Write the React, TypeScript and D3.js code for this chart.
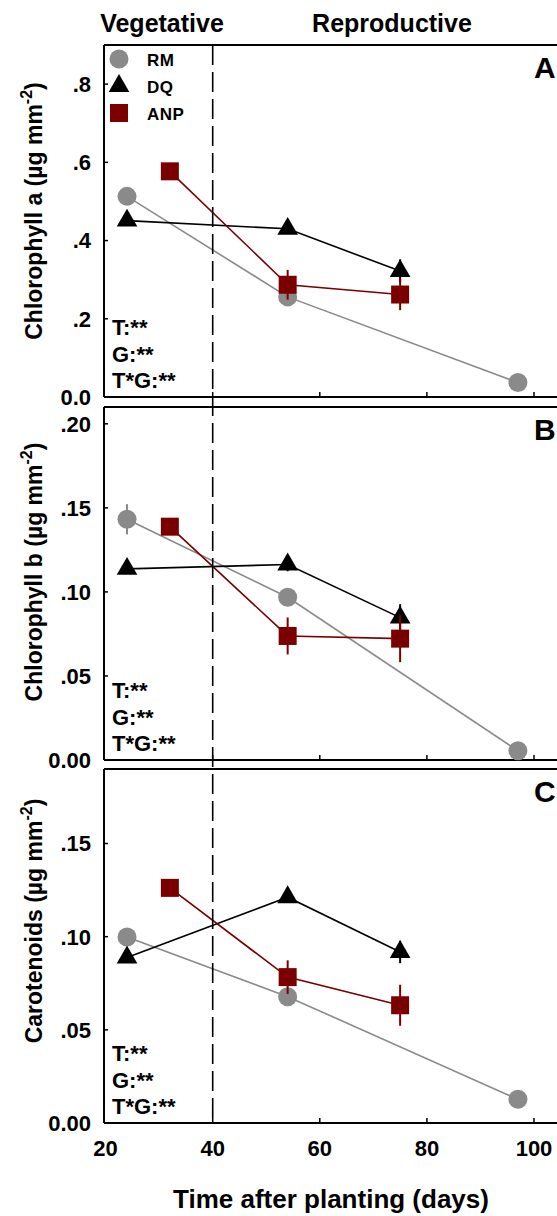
import React from "react";
import * as d3 from "d3";

// ---------- data ----------
const seriesNames = ["RM", "DQ", "ANP"];
const rmDays = [24, 54, 97];
const dqDays = [24, 54, 75];
const anpDays = [32, 54, 75];

const chlA_RM = [0.513, 0.256, 0.037];
const chlA_DQ = [0.451, 0.43, 0.322];
const chlA_ANP = [0.577, 0.287, 0.262];
const chlA_RM_err = [0.008, 0.012, 0.004];
const chlA_DQ_err = [0.008, 0.01, 0.03];
const chlA_ANP_err = [0.006, 0.038, 0.04];

const chlB_RM = [0.1432, 0.0968, 0.0055];
const chlB_DQ = [0.1137, 0.1163, 0.0847];
const chlB_ANP = [0.1388, 0.0738, 0.0722];
const chlB_RM_err = [0.009, 0.003, 0.002];
const chlB_DQ_err = [0.002, 0.004, 0.008];
const chlB_ANP_err = [0.003, 0.011, 0.014];

const car_RM = [0.0998, 0.0678, 0.0127];
const car_DQ = [0.0888, 0.1212, 0.0918];
const car_ANP = [0.1262, 0.0783, 0.0632];
const car_RM_err = [0.003, 0.003, 0.002];
const car_DQ_err = [0.002, 0.003, 0.006];
const car_ANP_err = [0.003, 0.009, 0.011];

const xTicks = [20, 40, 60, 80, 100];
const yTicksA = [0, 0.2, 0.4, 0.6, 0.8];
const yTickLabelsA = ["0.0", ".2", ".4", ".6", ".8"];
const yTicksB = [0, 0.05, 0.1, 0.15, 0.2];
const yTickLabelsB = ["0.00", ".05", ".10", ".15", ".20"];
const yTicksC = [0, 0.05, 0.1, 0.15];
const yTickLabelsC = ["0.00", ".05", ".10", ".15"];
const statLines = ["T:**", "G:**", "T*G:**"];
const phaseBoundary = 40;

// ---------- style ----------
const FONT = "'Liberation Sans', Arial, Helvetica, sans-serif";
const colors: Record<string, string> = { RM: "#8a8a8a", DQ: "#000000", ANP: "#7a0000" };
const W = 557;
const H = 1216;
const left = 104;
const rightEdge = 562;

const x = d3.scaleLinear().domain([20, 100]).range([105.6, 534]);

type Panel = {
  letter: string;
  label: string;
  top: number;
  bottom: number;
  max: number;
  ticks: number[];
  tickLabels: string[];
  labelCenter: number;
  series: { name: string; days: number[]; vals: number[]; errs: number[] }[];
};

const panels: Panel[] = [
  {
    letter: "A",
    label: "Chlorophyll a (µg mm",
    top: 45,
    bottom: 397,
    max: 0.9,
    ticks: yTicksA,
    tickLabels: yTickLabelsA,
    labelCenter: 211,
    series: [
      { name: "RM", days: rmDays, vals: chlA_RM, errs: chlA_RM_err },
      { name: "DQ", days: dqDays, vals: chlA_DQ, errs: chlA_DQ_err },
      { name: "ANP", days: anpDays, vals: chlA_ANP, errs: chlA_ANP_err },
    ],
  },
  {
    letter: "B",
    label: "Chlorophyll b (µg mm",
    top: 407,
    bottom: 760,
    max: 0.21,
    ticks: yTicksB,
    tickLabels: yTickLabelsB,
    labelCenter: 572,
    series: [
      { name: "RM", days: rmDays, vals: chlB_RM, errs: chlB_RM_err },
      { name: "DQ", days: dqDays, vals: chlB_DQ, errs: chlB_DQ_err },
      { name: "ANP", days: anpDays, vals: chlB_ANP, errs: chlB_ANP_err },
    ],
  },
  {
    letter: "C",
    label: "Carotenoids (µg mm",
    top: 769,
    bottom: 1123,
    max: 0.19,
    ticks: yTicksC,
    tickLabels: yTickLabelsC,
    labelCenter: 921,
    series: [
      { name: "RM", days: rmDays, vals: car_RM, errs: car_RM_err },
      { name: "DQ", days: dqDays, vals: car_DQ, errs: car_DQ_err },
      { name: "ANP", days: anpDays, vals: car_ANP, errs: car_ANP_err },
    ],
  },
];

const symbolPath: Record<string, string> = {
  RM: d3.symbol().type(d3.symbolCircle).size(Math.PI * 9.5 * 9.5)()!,
  DQ: d3.symbol().type(d3.symbolTriangle).size(185)()!,
  ANP: d3.symbol().type(d3.symbolSquare).size(18 * 18)()!,
};

function Marker({ name, cx, cy }: { name: string; cx: number; cy: number }) {
  return <path d={symbolPath[name]} transform={`translate(${cx},${cy})`} fill={colors[name]} />;
}

function PanelView({ p, isLast }: { p: Panel; isLast: boolean }) {
  const y = d3.scaleLinear().domain([0, p.max]).range([p.bottom, p.top]);
  const line = d3
    .line<[number, number]>()
    .x((d) => x(d[0]))
    .y((d) => y(d[1]));
  return (
    <g>
      {/* frame */}
      <line x1={left} x2={rightEdge} y1={p.top} y2={p.top} stroke="#000" strokeWidth={2} />
      <line x1={left} x2={rightEdge} y1={p.bottom} y2={p.bottom} stroke="#000" strokeWidth={2} />
      <line x1={left} x2={left} y1={p.top} y2={p.bottom} stroke="#000" strokeWidth={2} />
      {/* y ticks */}
      {p.ticks.map((t, i) => (
        <g key={t}>
          {i > 0 && <line x1={left} x2={left + 4} y1={y(t)} y2={y(t)} stroke="#000" strokeWidth={1.5} />}
          <text
            x={91}
            y={y(t)}
            dy="0.36em"
            textAnchor="end"
            fontFamily={FONT}
            fontWeight="bold"
            fontSize={22}
          >
            {p.tickLabels[i]}
          </text>
        </g>
      ))}
      {/* x ticks */}
      {xTicks.slice(1).map((t) => (
        <line key={t} x1={x(t)} x2={x(t)} y1={p.bottom} y2={p.bottom - 5} stroke="#000" strokeWidth={1.5} />
      ))}
      {isLast &&
        xTicks.map((t) => (
          <text key={t} x={x(t)} y={1156} textAnchor="middle" fontFamily={FONT} fontWeight="bold" fontSize={22}>
            {t}
          </text>
        ))}
      {/* y label */}
      <text
        transform={`translate(42,${p.labelCenter}) rotate(-90)`}
        textAnchor="middle"
        fontFamily={FONT}
        fontWeight="bold"
        fontSize={23}
      >
        {p.label}
        <tspan dy={-10} fontSize={16}>
          -2
        </tspan>
        <tspan dy={10}>)</tspan>
      </text>
      {/* panel letter */}
      <text x={534} y={p.top + 33} fontFamily={FONT} fontWeight="bold" fontSize={30}>
        {p.letter}
      </text>
      {/* stats */}
      {statLines.map((s, i) => (
        <text key={s} x={112} y={p.bottom - 62 + i * 26.5} fontFamily={FONT} fontWeight="bold" fontSize={22}>
          {s}
        </text>
      ))}
      {/* series */}
      {p.series.map((s) => (
        <g key={s.name}>
          <path
            d={line(s.days.map((d, i) => [d, s.vals[i]] as [number, number]))!}
            fill="none"
            stroke={colors[s.name]}
            strokeWidth={1.6}
          />
          {s.days.map((d, i) => (
            <line
              key={"e" + i}
              x1={x(d)}
              x2={x(d)}
              y1={y(s.vals[i] - s.errs[i])}
              y2={y(s.vals[i] + s.errs[i])}
              stroke={colors[s.name]}
              strokeWidth={2}
            />
          ))}
          {s.days.map((d, i) => (
            <Marker key={"m" + i} name={s.name} cx={x(d)} cy={y(s.vals[i])} />
          ))}
        </g>
      ))}
    </g>
  );
}

export default function App() {
  const first = panels[0];
  const last = panels[panels.length - 1];
  const legendY = [59, 86, 113];
  return (
    <svg
      width={W}
      height={H}
      style={{ position: "absolute", left: 0, top: 0, background: "#fff" }}
      xmlns="http://www.w3.org/2000/svg"
    >
      <rect width={W} height={H} fill="#fff" />
      <text x={162} y={32} textAnchor="middle" fontFamily={FONT} fontWeight="bold" fontSize={25}>
        Vegetative
      </text>
      <text x={392} y={32} textAnchor="middle" fontFamily={FONT} fontWeight="bold" fontSize={25}>
        Reproductive
      </text>
      {panels.map((p, i) => (
        <PanelView key={p.letter} p={p} isLast={i === panels.length - 1} />
      ))}
      {/* phase boundary */}
      <line
        x1={x(phaseBoundary)}
        x2={x(phaseBoundary)}
        y1={first.top}
        y2={last.bottom}
        stroke="#000"
        strokeWidth={1.6}
        strokeDasharray="20,7"
      />
      {/* legend */}
      {seriesNames.map((n, i) => (
        <g key={n}>
          <Marker name={n} cx={119} cy={legendY[i]} />
          <text x={147} y={legendY[i] + 6.5} fontFamily={FONT} fontWeight="bold" fontSize={17} letterSpacing={0.5}>
            {n}
          </text>
        </g>
      ))}
      <text x={331} y={1208} textAnchor="middle" fontFamily={FONT} fontWeight="bold" fontSize={26}>
        Time after planting (days)
      </text>
    </svg>
  );
}
